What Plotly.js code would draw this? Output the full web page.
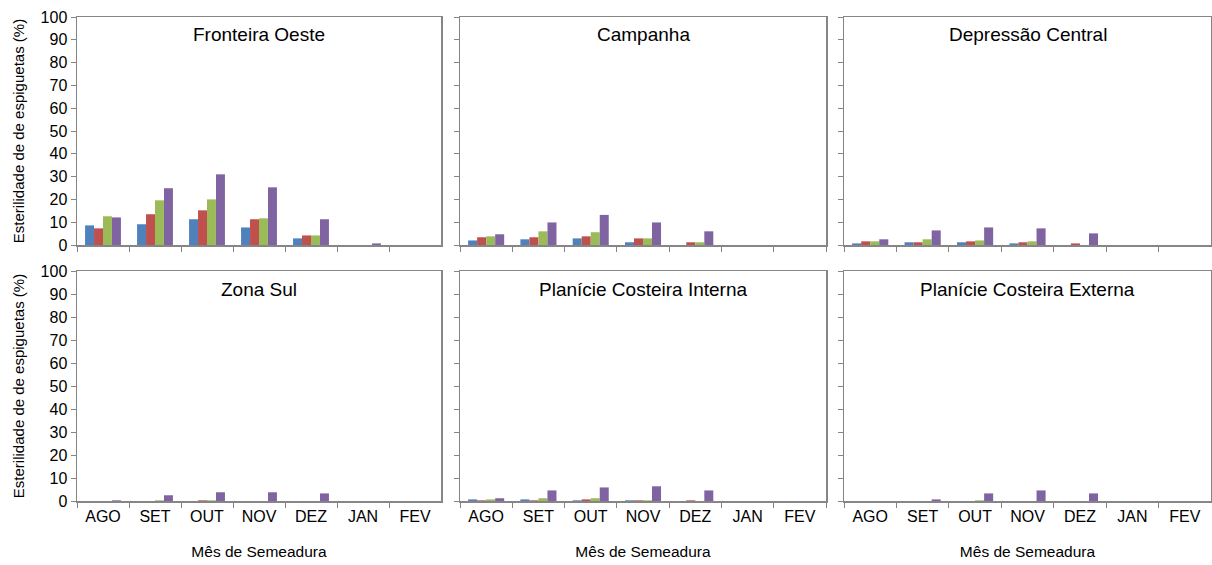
<!DOCTYPE html>
<html>
<head>
<meta charset="utf-8">
<script src="https://cdn.plot.ly/plotly-3.0.1.min.js"></script>
<style>html,body{margin:0;padding:0;background:#fff;}#chart{width:1212px;height:565px;}</style>
</head>
<body>
<div id="chart"></div>
<script>
const months = ['AGO','SET','OUT','NOV','DEZ','JAN','FEV'];
const seriesNames = ['Série 1','Série 2','Série 3','Série 4'];
const seriesColors = ['#4F81BD','#C0504D','#9BBB59','#8064A2'];
const regionTitles = ['Fronteira Oeste','Campanha','Depressão Central','Zona Sul','Planície Costeira Interna','Planície Costeira Externa'];

// values per region: [series1, series2, series3, series4], one value per month
const fronteiraOeste = [
  [8.6, 9.1, 11.3, 7.7, 2.9, 0, 0],
  [7.3, 13.5, 15.2, 11.3, 4.2, 0, 0],
  [12.6, 19.6, 20.0, 11.7, 4.2, 0, 0],
  [12.1, 24.9, 31.0, 25.3, 11.3, 0.7, 0]
];
const campanha = [
  [2.0, 2.5, 2.9, 1.2, 0, 0, 0],
  [3.4, 3.4, 3.8, 2.9, 1.2, 0, 0],
  [3.8, 6.0, 5.6, 2.9, 1.2, 0, 0],
  [4.7, 9.9, 13.2, 9.9, 6.0, 0, 0]
];
const depressaoCentral = [
  [0.7, 1.2, 1.2, 0.7, 0, 0, 0],
  [1.6, 1.2, 1.6, 1.2, 0.7, 0, 0],
  [1.6, 2.5, 2.0, 1.6, 0, 0, 0],
  [2.5, 6.4, 7.7, 7.3, 5.1, 0, 0]
];
const zonaSul = [
  [0, 0, 0, 0, 0, 0, 0],
  [0, 0, 0.3, 0, 0, 0, 0],
  [0, 0.3, 0.3, 0, 0, 0, 0],
  [0.3, 2.5, 3.8, 3.8, 3.3, 0, 0]
];
const planicieInterna = [
  [0.7, 0.7, 0.3, 0.3, 0, 0, 0],
  [0.3, 0.3, 0.7, 0.3, 0.3, 0, 0],
  [0.7, 1.2, 1.2, 0.3, 0, 0, 0],
  [1.2, 4.6, 5.9, 6.4, 4.6, 0, 0]
];
const planicieExterna = [
  [0, 0, 0, 0, 0, 0, 0],
  [0, 0, 0, 0, 0, 0, 0],
  [0, 0, 0.3, 0, 0, 0, 0],
  [0, 0.7, 3.3, 4.6, 3.3, 0, 0]
];
const yTicks = [0,10,20,30,40,50,60,70,80,90,100];
const yTitle = 'Esterilidade de de espiguetas (%)';
const xTitle = 'Mês de Semeadura';

const regionData = [fronteiraOeste, campanha, depressaoCentral, zonaSul, planicieInterna, planicieExterna];

const W = 1212, H = 565;
const xDom = [[77,441],[460,826],[844,1211]].map(d => [d[0]/W, d[1]/W]);
const yDom = [[17,245],[271,501]].map(d => [1 - d[1]/H, 1 - d[0]/H]);
const font = 'Liberation Sans, Arial, sans-serif';
const axisColor = '#868686';

const traces = [];
const layout = {
  width: W, height: H,
  margin: {l:0, r:0, t:0, b:0},
  paper_bgcolor: '#fff', plot_bgcolor: '#fff',
  showlegend: false,
  barmode: 'group', bargap: 0.31, bargroupgap: 0,
  font: {family: font, size: 16, color: '#000'},
  annotations: []
};

regionData.forEach((data, i) => {
  const n = i + 1;
  const suf = n === 1 ? '' : String(n);
  const row = Math.floor(i / 3), col = i % 3;
  data.forEach((vals, s) => {
    traces.push({
      type: 'bar', x: months, y: vals, name: seriesNames[s],
      marker: {color: seriesColors[s]},
      xaxis: 'x' + suf, yaxis: 'y' + suf,
      hoverinfo: 'x+y+name'
    });
  });
  layout['xaxis' + suf] = {
    domain: xDom[col], anchor: 'y' + suf,
    type: 'category', categoryorder: 'array', categoryarray: months,
    showline: true, linecolor: axisColor, linewidth: 1.5, mirror: true,
    ticks: 'outside', tickson: 'boundaries', ticklen: 5, tickcolor: axisColor,
    showgrid: false, zeroline: false,
    showticklabels: row === 1,
    tickfont: {family: font, size: 16, color: '#000'},
    title: row === 1 ? {text: xTitle, font: {family: font, size: 15.5, color: '#000'}, standoff: 22} : undefined
  };
  layout['yaxis' + suf] = {
    domain: yDom[row], anchor: 'x' + suf,
    range: [0, 100], tickvals: yTicks, ticktext: yTicks.map(String),
    showline: true, linecolor: axisColor, linewidth: 1.5, mirror: true,
    ticks: 'outside', ticklen: 5, tickcolor: axisColor,
    showgrid: false, zeroline: false,
    showticklabels: col === 0,
    tickfont: {family: font, size: 16, color: '#000'},
    title: col === 0 ? {text: yTitle, font: {family: font, size: 15, color: '#000'}, standoff: 12} : undefined
  };
  layout.annotations.push({
    text: regionTitles[i], showarrow: false,
    xref: 'x' + suf + ' domain', yref: 'y' + suf + ' domain',
    x: 0.5, y: 1 - 18 / 228, xanchor: 'center', yanchor: 'middle',
    font: {family: font, size: 19, color: '#000'}
  });
});

Plotly.newPlot('chart', traces, layout, {displayModeBar: false, staticPlot: true});
</script>
</body>
</html>
